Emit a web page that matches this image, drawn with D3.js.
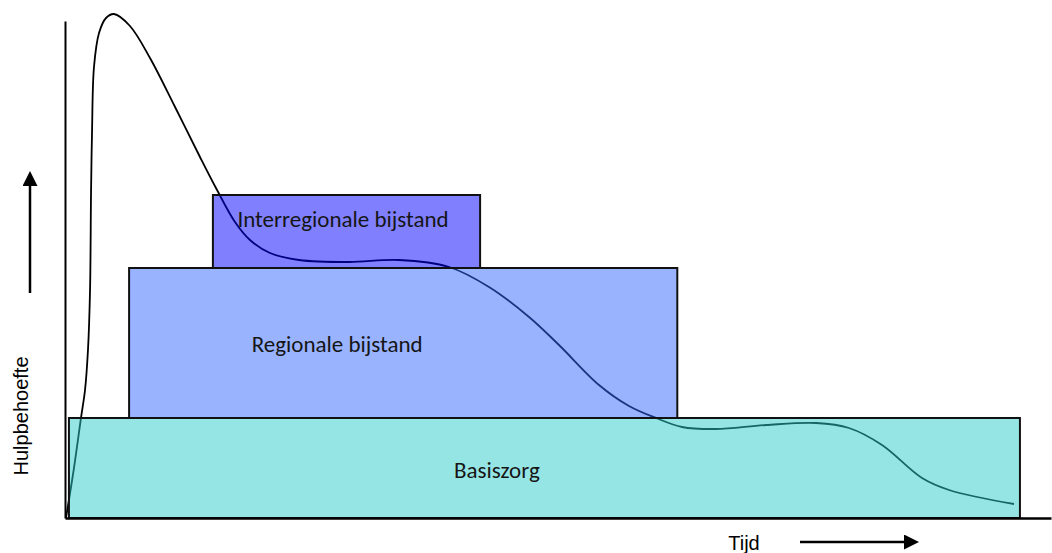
<!DOCTYPE html>
<html>
<head>
<meta charset="utf-8">
<script src="https://cdn.jsdelivr.net/npm/d3@7"></script>
<style>
  body { margin: 0; background: #fff; }
  svg { display: block; }
</style>
</head>
<body>
<div id="chart"></div>
<script>
// blokken (tijd 0-100, hulpbehoefte 0-100)
const blockNames = ['Basiszorg', 'Regionale bijstand', 'Interregionale bijstand']
const blockStart = [0.4, 6.5, 15.0]
const blockEnd = [96.85, 62.1, 42.1]
const blockLow = [0, 20, 50]
const blockHigh = [20, 50, 64.6]
const blockColors = ['#2dcbcb', '#3367ff', '#0101ff']

// curve van de hulpbehoefte
const curveTime = [0.1, 0.91, 1.62, 2.03, 2.33, 2.54, 2.64, 2.74, 2.94, 3.45, 4.16, 4.97,
  6.59, 8.62, 11.16, 13.69, 15.42, 17.24, 18.76, 20.79, 23.73, 28.8, 33.87, 38.95, 43.0,
  47.06, 50.1, 54.16, 57.2, 59.94, 62.58, 66.02, 71.1, 76.17, 79.51, 82.86, 86.92,
  89.66, 96.25]
const curveNeed = [0, 10, 20, 25.6, 33.6, 45.6, 65, 77, 90.2, 97, 100, 100.8,
  98.4, 92, 82.2, 72.2, 65.6, 59.2, 55.6, 53, 51.6, 51.2, 51.6, 50.2, 46.2,
  40.2, 34.6, 26.6, 22.4, 20, 18.2, 17.8, 18.6, 19, 18, 14.6, 8,
  5.6, 2.8]

const width = 1052
const height = 553
const x = d3.scaleLinear().domain([0, 100]).range([65, 1051])
const y = d3.scaleLinear().domain([0, 100]).range([518, 18])

const svg = d3.select('#chart')
  .append('svg')
  .attr('width', width)
  .attr('height', height)

// curve eerst, blokken er half-doorzichtig overheen
const line = d3.line()
  .x((d, i) => x(curveTime[i]))
  .y(d => y(d))
  .curve(d3.curveCatmullRom.alpha(0.5))

svg.append('path')
  .datum(curveNeed)
  .attr('d', line)
  .attr('fill', 'none')
  .attr('stroke', '#000')
  .attr('stroke-width', 1.8)

svg.append('g')
  .selectAll('rect')
  .data(blockNames)
  .enter()
  .append('rect')
  .attr('x', (d, i) => x(blockStart[i]))
  .attr('y', (d, i) => y(blockHigh[i]))
  .attr('width', (d, i) => x(blockEnd[i]) - x(blockStart[i]))
  .attr('height', (d, i) => y(blockLow[i]) - y(blockHigh[i]))
  .attr('fill', (d, i) => blockColors[i])
  .attr('fill-opacity', 0.5)
  .attr('stroke', '#111')
  .attr('stroke-width', 2)

// plaats van de teksten in de blokken
const labelX = [43.8, 27.6, 28.2]
const labelY = [8, 33.2, 58.2]
svg.append('g')
  .selectAll('text')
  .data(blockNames)
  .enter()
  .append('text')
  .attr('x', (d, i) => x(labelX[i]))
  .attr('y', (d, i) => y(labelY[i]))
  .attr('text-anchor', 'middle')
  .style('font-family', 'Carlito, Calibri, Lato, sans-serif')
  .style('font-size', '23px')
  .style('fill', '#151515')
  .text(d => d)

// assen zonder ticks
svg.append('g')
  .attr('transform', `translate(0,${y(0)})`)
  .call(d3.axisBottom(x).ticks(0).tickSizeOuter(0))
  .select('.domain')
  .attr('stroke', '#000')
  .attr('stroke-width', 2.5)

svg.append('g')
  .attr('transform', `translate(${x(0)},0)`)
  .call(d3.axisLeft(d3.scaleLinear().domain([0, 1]).range([518, 21])).ticks(0).tickSizeOuter(0))
  .select('.domain')
  .attr('stroke', '#000')
  .attr('stroke-width', 2)

// pijlen en astitels
svg.append('defs')
  .append('marker')
  .attr('id', 'arrow')
  .attr('viewBox', '0 0 10 10')
  .attr('refX', 0)
  .attr('refY', 5)
  .attr('markerWidth', 15)
  .attr('markerHeight', 15)
  .attr('markerUnits', 'userSpaceOnUse')
  .attr('orient', 'auto')
  .append('path')
  .attr('d', 'M0,0L10,5L0,10Z')
  .attr('fill', '#000')

svg.append('line')
  .attr('x1', 30).attr('y1', 293)
  .attr('x2', 30).attr('y2', 186)
  .attr('stroke', '#000')
  .attr('stroke-width', 2.5)
  .attr('marker-end', 'url(#arrow)')

svg.append('line')
  .attr('x1', 800).attr('y1', 542)
  .attr('x2', 904).attr('y2', 542)
  .attr('stroke', '#000')
  .attr('stroke-width', 2.5)
  .attr('marker-end', 'url(#arrow)')

svg.append('text')
  .attr('transform', 'translate(28,416) rotate(-90)')
  .attr('text-anchor', 'middle')
  .style('font-family', '"Liberation Sans", Arial, sans-serif')
  .style('font-size', '20px')
  .text('Hulpbehoefte')

svg.append('text')
  .attr('x', 744)
  .attr('y', 550)
  .attr('text-anchor', 'middle')
  .style('font-family', '"Liberation Sans", Arial, sans-serif')
  .style('font-size', '20px')
  .text('Tijd')
</script>
</body>
</html>
